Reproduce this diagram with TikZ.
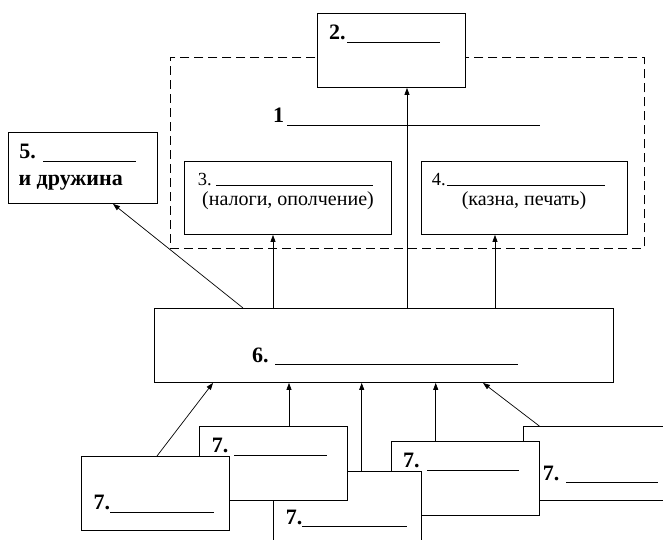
\documentclass[tikz,border=0pt]{standalone}
\usepackage{fontspec}
\setmainfont{Liberation Serif}
\usetikzlibrary{arrows.meta}
\begin{document}
\begin{tikzpicture}[x=1pt,y=-1pt,
  box/.style={draw, line width=0.9pt, fill=white, rectangle, inner sep=0pt, anchor=north west},
  frame/.style={draw, line width=0.9pt, dash pattern=on 9pt off 5pt, rectangle, inner sep=0pt, anchor=north west},
  arr/.style={draw, line width=0.7pt, -{Triangle[length=7pt,width=5pt]}},
  bl/.style={anchor=base west, inner sep=0pt, font=\fontsize{22}{22}\bfseries},
  rl/.style={anchor=base west, inner sep=0pt, font=\fontsize{18.5}{18.5}\selectfont},
  pl/.style={anchor=base, inner sep=0pt, font=\fontsize{20}{20}\selectfont}]
\useasboundingbox (0,0) rectangle (663,540);
\clip (0,0) rectangle (663,540);
\fill[white] (0,0) rectangle (663,540);
% dashed frame
\node[frame, minimum width=474pt, minimum height=191pt] (fr) at (170,57) {};
% label 1
\node[bl] (l1) at (273,123) {\makebox[14pt][l]{1}\rule[-3pt]{253pt}{0.8pt}};
% boxes
\node[box, minimum width=207pt, minimum height=73pt] (b3) at (184,161) {};
\node[box, minimum width=206pt, minimum height=73pt] (b4) at (421,161) {};
\node[box, minimum width=148pt, minimum height=74pt] (b2) at (317,13) {};
\node[box, minimum width=149pt, minimum height=71pt] (b5) at (8,132) {};
\node[box, minimum width=459pt, minimum height=74pt] (b6) at (154,308) {};
% texts in top boxes
\node[bl] (l2) at (329,40) {\makebox[18pt][l]{2.}\rule[-2.7pt]{93pt}{0.8pt}};
\node[rl] (l3) at (197.7,185) {\makebox[18.3pt][l]{3.}\rule[-1pt]{157pt}{0.8pt}};
\node[pl] (p3) at (288,205) {(налоги, ополчение)};
\node[rl] (l4) at (431.7,185.5) {\makebox[15pt][l]{4.}\rule[-0.5pt]{158pt}{0.8pt}};
\node[pl] (p4) at (524,205) {(казна, печать)};
\node[bl] (l5) at (19.3,158.3) {\makebox[24pt][l]{5.}\rule[-3.4pt]{92pt}{0.8pt}};
\node[bl] (l5b) at (18.3,185) {и дружина};
\node[bl] (l6) at (252,362) {\makebox[23pt][l]{6.}\rule[-3pt]{243pt}{0.8pt}};
% arrows from 6 upward
\draw[arr] (243,0 |- b6.north) -- (113,0 |- b5.south);
\draw[arr] (273,0 |- b6.north) -- (273,0 |- b3.south);
\draw[arr] (407,0 |- b6.north) -- (407,0 |- b2.south);
\draw[arr] (495,0 |- b6.north) -- (495,0 |- b4.south);
% boxes 7 (back to front)
\node[box, minimum width=148pt, minimum height=74pt] (e7) at (523,426) {};
\node[bl] (le7) at (542.7,480) {\makebox[23.3pt][l]{7.}\rule[-2.7pt]{91.3pt}{0.8pt}};
\node[box, minimum width=148pt, minimum height=74pt] (d7) at (391,441) {};
\node[bl] (ld7) at (403,467.3) {\makebox[23.7pt][l]{7.}\rule[-3.4pt]{91.6pt}{0.8pt}};
\node[box, minimum width=148pt, minimum height=74pt] (c7) at (273,471) {};
\node[bl] (lc7) at (285.7,524) {\makebox[16pt][l]{7.}\rule[-3pt]{105pt}{0.8pt}};
\node[box, minimum width=148pt, minimum height=74pt] (b7) at (199,426) {};
\node[bl] (lb7) at (211.7,452.7) {\makebox[22.3pt][l]{7.}\rule[-3pt]{93pt}{0.8pt}};
\node[box, minimum width=148pt, minimum height=74pt] (a7) at (81,456) {};
\node[bl] (la7) at (93.3,509) {\makebox[16.7pt][l]{7.}\rule[-3.7pt]{104pt}{0.8pt}};
% arrows from 7s to 6
\draw[arr] (157,0 |- a7.north) -- (213,0 |- b6.south);
\draw[arr] (289,0 |- b7.north) -- (289,0 |- b6.south);
\draw[arr] (361.7,0 |- c7.north) -- (361.7,0 |- b6.south);
\draw[arr] (435.7,0 |- d7.north) -- (435.7,0 |- b6.south);
\draw[arr] (539.3,0 |- e7.north) -- (483,0 |- b6.south);
\end{tikzpicture}
\end{document}
